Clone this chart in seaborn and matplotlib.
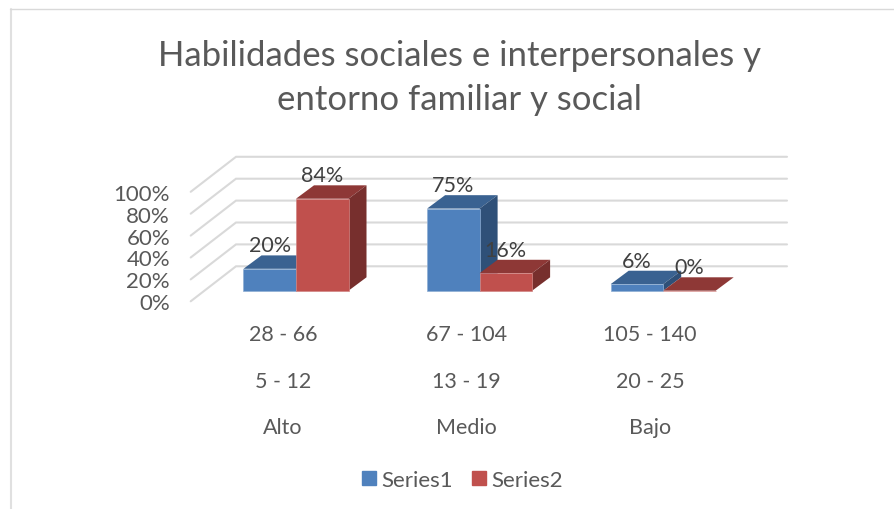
import matplotlib
matplotlib.use("Agg")
import matplotlib.pyplot as plt
import pandas as pd
import seaborn as sns
from matplotlib.patches import Polygon, Rectangle

title_text = "Habilidades sociales e interpersonales y\nentorno familiar y social"
categories = ["28 - 66\n\n5 - 12\n\nAlto", "67 - 104\n\n13 - 19\n\nMedio", "105 - 140\n\n20 - 25\n\nBajo"]
series1 = [20, 75, 6]
series2 = [84, 16, 0]
y_ticks = [0, 20, 40, 60, 80, 100]

W, H = 894, 510
BLUE, RED = "#4F81BD", "#C0504D"
BLUE_TOP, RED_TOP = "#3A6291", "#8E3836"
BLUE_SIDE, RED_SIDE = "#2F5078", "#772F2D"
GRID = "#D9D9D9"
TICK = "#595959"
LABEL = "#404040"
FONT = "Lato"

sns.set_theme(style="white")
plt.rcParams["font.family"] = [FONT, "DejaVu Sans"]

df = pd.DataFrame({
    "cat": categories * 2,
    "val": series1 + series2,
    "serie": ["Series1"] * 3 + ["Series2"] * 3,
})

fig = plt.figure(figsize=(W / 100, H / 100), dpi=100, facecolor="white")
# the axes span the figure; its data limits come from the pixel layout
ax = fig.add_axes([0, 0, 1, 1])
x0_px, dx_px = 296.0, 183.6
y0_px, dy_px = 291.7, 1.095
sns.barplot(data=df, x="cat", y="val", hue="serie", hue_order=["Series1", "Series2"],
            palette=[BLUE, RED], width=0.572, gap=0, saturation=1, legend=False, ax=ax)
ax.set_xlim(-x0_px / dx_px, (W - x0_px) / dx_px)
ax.set_ylim((y0_px - H) / dy_px, y0_px / dy_px)
ax.set_xlabel("")
ax.set_ylabel("")
ax.set_yticks([])
ax.set_xticks([])
for s in ax.spines.values():
    s.set_visible(False)
ax.patch.set_alpha(0)


def X(p):
    return (p - x0_px) / dx_px


def Y(p):
    return (y0_px - p) / dy_px


depth_x = 18.0 / dx_px
depth_y = 13.4 / dy_px
front_x, back_x, right_x = X(190.7), X(236.0), X(787.0)
back_off, front_off = 24.4 / dy_px, -10.6 / dy_px

for v in y_ticks:
    ax.plot([front_x, back_x, right_x],
            [v + front_off, v + back_off, v + back_off],
            color=GRID, lw=1.5, zorder=1, solid_joinstyle="miter")
    ax.text(X(170), v + front_off, f"{v}%", ha="right", va="center_baseline",
            fontsize=16, color=TICK)

bars = [b for b in ax.patches if b.get_width() > 0]
for b in bars:
    x, w, h = b.get_x(), b.get_width(), b.get_height()
    is_blue = matplotlib.colors.to_hex(b.get_facecolor()) == BLUE.lower()
    top, side = (BLUE_TOP, BLUE_SIDE) if is_blue else (RED_TOP, RED_SIDE)
    z = 3 if is_blue else 4
    b.set_zorder(z + 0.5)
    b.set_edgecolor("#8FAED3" if is_blue else "#D28583")
    b.set_linewidth(0.5)
    ax.add_patch(Polygon([(x, h), (x + w, h), (x + w + depth_x, h + depth_y), (x + depth_x, h + depth_y)],
                         closed=True, facecolor=top, edgecolor="none", zorder=z))
    ax.add_patch(Polygon([(x + w, 0), (x + w + depth_x, depth_y), (x + w + depth_x, h + depth_y), (x + w, h)],
                         closed=True, facecolor=side, edgecolor="none", zorder=z))
    ax.text(x + w / 2, h + depth_y, f"{h:.0f}%", ha="center", va="bottom",
            fontsize=15.5, color=LABEL, zorder=6)

for i, c in enumerate(categories):
    ax.text(i - 13 / dx_px, Y(325), c, ha="center", va="top", fontsize=15.5, color=TICK, linespacing=1.208)

ax.text(X(459.5), Y(78), title_text, ha="center", va="center", fontsize=25, color=TICK, linespacing=1.49)

handles = [Rectangle((0, 0), 1, 1, color=BLUE), Rectangle((0, 0), 1, 1, color=RED)]
fig.legend(handles, ["Series1", "Series2"], loc="center", bbox_to_anchor=(462.5 / W, 1 - 481 / H),
           ncol=2, frameon=False, fontsize=16, labelcolor=TICK, handlelength=0.63, handleheight=0.63,
           handletextpad=0.22, columnspacing=0.89, borderpad=0)

fig.add_artist(plt.Line2D([11 / W, 11 / W], [0, 1 - 9.5 / H], color="#E0E0E0", lw=1.5))
fig.add_artist(plt.Line2D([10 / W, 1], [1 - 9.5 / H, 1 - 9.5 / H], color=GRID, lw=1.0))

fig.savefig("out.png", dpi=100, facecolor="white")
